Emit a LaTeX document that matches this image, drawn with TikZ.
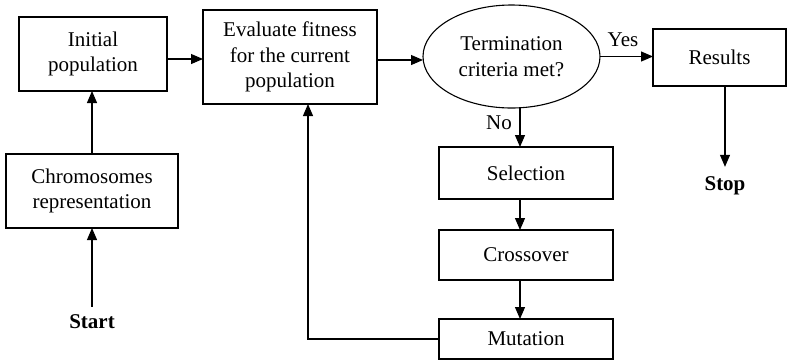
\documentclass[tikz,border=0pt]{standalone}
\usepackage{fontspec}
\setmainfont{Liberation Serif}
\usetikzlibrary{arrows.meta,shapes.geometric}
\begin{document}
\begin{tikzpicture}[x=1pt,y=-1pt,
  every node/.style={font=\fontsize{21}{25.5}\selectfont, inner sep=0pt, outer sep=0pt},
  box/.style={draw, line width=1.1pt, align=center},
  arr/.style={line width=1.1pt, -{Triangle[length=12pt,width=10pt]}},
  ln/.style={line width=1.1pt}]
\useasboundingbox (0,0) rectangle (788,360);
\node[box, minimum width=148pt, minimum height=74pt] (init) at (93,54) {Initial\\population};
\node[box, minimum width=174pt, minimum height=94pt] (eval) at (290,57) {Evaluate fitness\\for the current\\population};
\node[box, minimum width=172pt, minimum height=74pt] (chrom) at (92,191) {Chromosomes\\representation};
\node[draw, line width=1.1pt, ellipse, align=center, minimum width=177pt, minimum height=103pt] (ell) at (511.5,56.5) {Termination\\criteria met?};
\node[box, minimum width=133pt, minimum height=57pt] (res) at (719.5,57.5) {Results};
\node[box, minimum width=174pt, minimum height=52pt] (sel) at (526,173) {Selection};
\node[box, minimum width=174pt, minimum height=50pt] (cro) at (526,255) {Crossover};
\node[box, minimum width=174pt, minimum height=40pt] (mut) at (526,339) {Mutation};
\node[font=\fontsize{21}{25.5}\selectfont\bfseries] (start) at (92,322) {Start};
\node[font=\fontsize{21}{25.5}\selectfont\bfseries] (stop) at (725,186) {Stop};
\node (yes) at (623,40) {Yes};
\node (no) at (499,123) {No};
\coordinate (colx) at (520,0);
\coordinate (fb) at (308,0);
\draw[arr] ([yshift=8pt]start.north) -- (chrom.south);
\draw[arr] (chrom.north) -- (chrom.north |- init.south);
\draw[arr] ([yshift=-5pt]init.east) -- ([yshift=-5pt]init.east -| eval.west);
\draw[arr] ([yshift=-3pt]eval.east) -- ([yshift=-3pt]eval.east -| ell.west);
\draw[arr] (ell.east) -- (ell.east -| res.west);
\draw[arr] (stop.north |- res.south) -- ([yshift=10pt]stop.north);
\draw[arr] (colx |- ell.south) -- (colx |- sel.north);
\draw[arr] (colx |- sel.south) -- (colx |- cro.north);
\draw[arr] (colx |- cro.south) -- (colx |- mut.north);
\draw[arr] (mut.west) -| (fb |- eval.south);
\end{tikzpicture}
\end{document}
